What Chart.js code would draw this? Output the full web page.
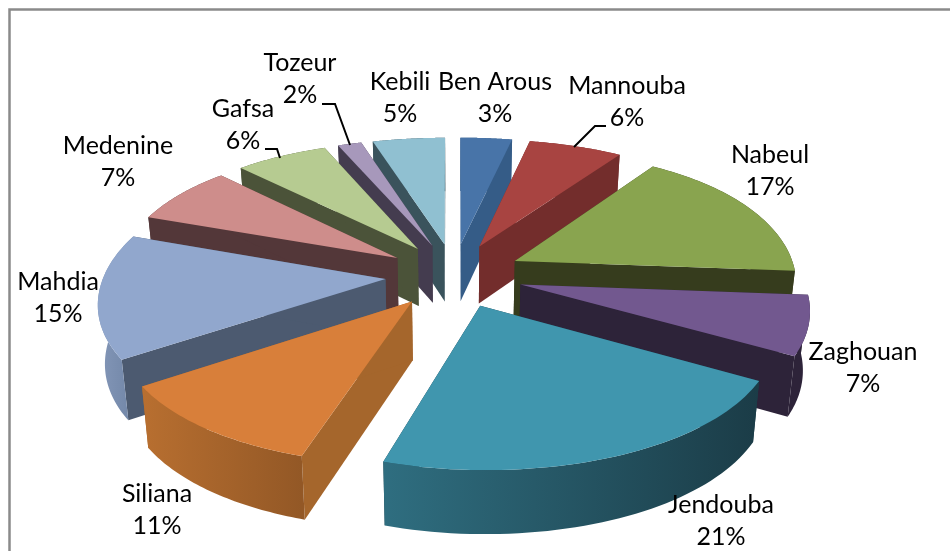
<!DOCTYPE html>
<html lang="en">
  <head>
    <meta charset="UTF-8" />
    <title>Pie 3D</title>
    <script src="https://cdn.jsdelivr.net/npm/chart.js"></script>
    <style>
      body { margin: 0; background: #fff; }
    </style>
  </head>
  <body>
    <canvas id="pieChart" width="950" height="551"></canvas>

    <script>
      const regions = ["Ben Arous", "Mannouba", "Nabeul", "Zaghouan", "Jendouba", "Siliana", "Mahdia", "Medenine", "Gafsa", "Tozeur", "Kebili"];
      const shares = [3.2, 6.0, 17.0, 7.1, 21.4, 10.8, 15.0, 7.4, 6.1, 1.5, 4.5];

      // colours: top face, cut wall, outer wall (left, right)
      const topColors = ["#4874a8", "#a84441", "#89a44f", "#72588f", "#4096ae", "#d87f3a", "#91a7cd", "#ce8d8b", "#b6cb91", "#a798bb", "#90c0d1"];
      const cutColors = ["#355c87", "#732d2c", "#363c1d", "#2d2339", "#1c3d48", "#a5662c", "#4c5a70", "#533739", "#4b5339", "#443c4f", "#3a535c"];
      const wallLeft = ["#355c87", "#732d2c", "#363c1d", "#2d2339", "#2f6e80", "#b86f30", "#8497b8", "#533739", "#4b5339", "#443c4f", "#3a535c"];
      const wallRight = ["#355c87", "#732d2c", "#363c1d", "#2d2339", "#1b3c47", "#935826", "#7186a7", "#533739", "#4b5339", "#443c4f", "#3a535c"];

      // label centres and leader lines, page pixels
      const labelAt = [[495, 82], [627, 86], [770, 155], [863, 352], [721, 505], [157, 494], [58, 282], [118, 146], [243, 109], [300, 63], [400, 82]];
      const leaders = [
        [[322, 104], [335, 104], [350, 145]],
        [[606, 126], [595, 126], [574, 147]],
        [[265, 149], [277, 149], [280, 158]],
      ];

      // view of the tilted pie
      const view = { cx: 454, cy: 275, sx: 281.5, sy: 130.5, persp: 0.146, depth: 58 };

      function project(u, v, z) {
        const s = 1 / (1 - view.persp * v);
        const sh = 1 + 0.139 * v + 0.0605 * v * v; // width grows faster toward the front
        const shrink = 1 - 0.02 * z;
        return [
          view.cx + u * view.sx * sh * shrink,
          view.cy + v * view.sy * s + z * view.depth * Math.sqrt(s),
        ];
      }

      function tracePath(ctx, pts) {
        ctx.beginPath();
        pts.forEach((p, i) => (i ? ctx.lineTo(p[0], p[1]) : ctx.moveTo(p[0], p[1])));
        ctx.closePath();
      }

      function drawSlice(ctx, arc, i) {
        const { startAngle, endAngle, outerRadius } = arc.getProps(["startAngle", "endAngle", "outerRadius"], true);
        const mid = (startAngle + endAngle) / 2;
        const e = arc.options.offset / outerRadius;
        const ou = Math.cos(mid) * e;
        const ov = Math.sin(mid) * e;

        const rim = [];
        const steps = 48;
        for (let k = 0; k <= steps; k++) {
          const a = startAngle + ((endAngle - startAngle) * k) / steps;
          rim.push([ou + Math.cos(a), ov + Math.sin(a)]);
        }
        const first = rim[0];
        const last = rim[steps];

        // cut walls
        ctx.fillStyle = cutColors[i];
        [first, last].forEach((p) => {
          tracePath(ctx, [project(ou, ov, 0), project(p[0], p[1], 0), project(p[0], p[1], 1), project(ou, ov, 1)]);
          ctx.fill();
        });

        // outer wall
        const top = rim.map((p) => project(p[0], p[1], 0));
        const bottom = rim.map((p) => project(p[0], p[1], 1)).reverse();
        const xs = top.map((p) => p[0]);
        const grad = ctx.createLinearGradient(Math.min(...xs), 0, Math.max(...xs), 0);
        grad.addColorStop(0, wallLeft[i]);
        grad.addColorStop(1, wallRight[i]);
        ctx.fillStyle = grad;
        tracePath(ctx, top.concat(bottom));
        ctx.fill();

        // top face
        ctx.fillStyle = topColors[i];
        tracePath(ctx, [project(ou, ov, 0)].concat(top));
        ctx.fill();
      }

      const pie3d = {
        id: "pie3d",
        beforeDraw(chart) {
          const ctx = chart.ctx;
          ctx.save();
          ctx.strokeStyle = "#8a8a8a";
          ctx.lineWidth = 2.5;
          ctx.beginPath();
          ctx.moveTo(9.5, 551);
          ctx.lineTo(9.5, 9.5);
          ctx.lineTo(950, 9.5);
          ctx.stroke();
          ctx.restore();
        },
        beforeDatasetsDraw(chart) {
          const ctx = chart.ctx;
          const arcs = chart.getDatasetMeta(0).data;
          // back slices first
          const order = arcs.map((a, i) => i).sort((a, b) => {
            const pa = arcs[a].getProps(["startAngle", "endAngle"], true);
            const pb = arcs[b].getProps(["startAngle", "endAngle"], true);
            return Math.sin((pa.startAngle + pa.endAngle) / 2) - Math.sin((pb.startAngle + pb.endAngle) / 2);
          });
          order.forEach((i) => drawSlice(ctx, arcs[i], i));

          ctx.save();
          ctx.strokeStyle = "#000";
          ctx.lineWidth = 2;
          leaders.forEach((line) => {
            ctx.beginPath();
            line.forEach((p, k) => (k ? ctx.lineTo(p[0], p[1]) : ctx.moveTo(p[0], p[1])));
            ctx.stroke();
          });
          ctx.fillStyle = "#000";
          ctx.font = "25px Lato";
          ctx.textAlign = "center";
          ctx.textBaseline = "middle";
          regions.forEach((name, i) => {
            ctx.fillText(name, labelAt[i][0], labelAt[i][1]);
            ctx.fillText(Math.round(shares[i]) + "%", labelAt[i][0], labelAt[i][1] + 32);
          });
          ctx.restore();
          return false;
        },
      };

      new Chart(document.getElementById("pieChart").getContext("2d"), {
        type: "pie",
        data: {
          labels: regions,
          datasets: [{ data: shares, backgroundColor: topColors, borderWidth: 0, offset: 60 }],
        },
        options: {
          responsive: false,
          animation: false,
          plugins: { legend: { display: false }, tooltip: { enabled: false } },
        },
        plugins: [pie3d],
      });
    </script>
  </body>
</html>
